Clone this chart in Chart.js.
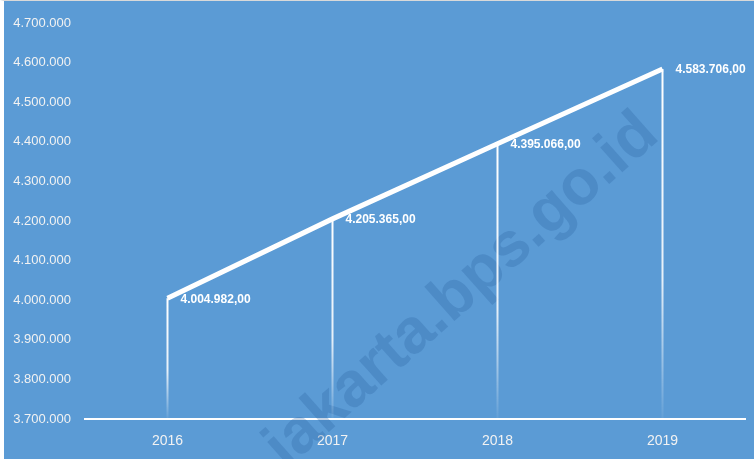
<!DOCTYPE html>
<html>
<head>
<meta charset="utf-8">
<script src="https://cdn.jsdelivr.net/npm/chart.js@4/dist/chart.umd.min.js"></script>
<style>
  html, body { margin: 0; padding: 0; background: #ffffff; }
  #wrap { position: absolute; left: 0; top: 0; width: 750px; height: 458px; border-left: 4px solid #ffffff; border-top: 1px solid #d9d9d9; background: #5B9BD5; }
  canvas { display: block; }
</style>
</head>
<body>
<div id="wrap"><canvas id="c" width="750" height="458"></canvas></div>
<script>
const categories = ['2016', '2017', '2018', '2019'];
const values = [4004982, 4205365, 4395066, 4583706];
const valueLabels = ['4.004.982,00', '4.205.365,00', '4.395.066,00', '4.583.706,00'];
const yMin = 3700000;
const yMax = 4700000;
const yStep = 100000;
const watermarkText = 'jakarta.bps.go.id';

function fmtThousands(v) {
  return String(Math.round(v)).replace(/\B(?=(\d{3})+(?!\d))/g, '.');
}

const extras = {
  id: 'extras',
  beforeDatasetsDraw(chart) {
    const ctx = chart.ctx;
    // watermark
    ctx.save();
    ctx.translate(458, 290);
    ctx.rotate(-41.5 * Math.PI / 180);
    ctx.font = 'bold 63px "Liberation Sans", Arial, sans-serif';
    ctx.fillStyle = 'rgba(40, 95, 160, 0.27)';
    ctx.textAlign = 'center';
    ctx.textBaseline = 'middle';
    ctx.fillText(watermarkText, 0, 0);
    ctx.restore();
    // drop lines
    const xs = chart.scales.x, ys = chart.scales.y;
    const bottom = ys.getPixelForValue(yMin);
    values.forEach((v, i) => {
      const x = xs.getPixelForValue(i);
      const y = ys.getPixelForValue(v);
      const g = ctx.createLinearGradient(0, y, 0, bottom);
      g.addColorStop(0, 'rgba(255,255,255,1)');
      g.addColorStop(0.6, 'rgba(255,255,255,0.85)');
      g.addColorStop(1, 'rgba(255,255,255,0.05)');
      ctx.save();
      ctx.strokeStyle = g;
      ctx.lineWidth = 2;
      ctx.beginPath();
      ctx.moveTo(x, y);
      ctx.lineTo(x, bottom);
      ctx.stroke();
      ctx.restore();
    });
  },
  afterDatasetsDraw(chart) {
    const ctx = chart.ctx;
    const xs = chart.scales.x, ys = chart.scales.y;
    ctx.save();
    ctx.font = 'bold 12px "Liberation Sans", Arial, sans-serif';
    ctx.fillStyle = '#ffffff';
    ctx.textAlign = 'left';
    ctx.textBaseline = 'middle';
    values.forEach((v, i) => {
      const x = xs.getPixelForValue(i);
      const y = ys.getPixelForValue(v);
      ctx.fillText(valueLabels[i], x + 13, y + 1);
    });
    ctx.restore();
  }
};

new Chart(document.getElementById('c'), {
  type: 'line',
  data: {
    labels: categories,
    datasets: [{
      data: values,
      borderColor: '#ffffff',
      borderWidth: 5,
      pointRadius: 0,
      tension: 0,
      fill: false,
      borderCapStyle: 'butt',
      borderJoinStyle: 'miter'
    }]
  },
  options: {
    responsive: false,
    animation: false,
    devicePixelRatio: 1,
    layout: { padding: { top: 22, right: 9, left: 0, bottom: 0 } },
    plugins: { legend: { display: false }, tooltip: { enabled: false } },
    scales: {
      x: {
        offset: true,
        grid: { display: false, drawTicks: false },
        border: { display: true, color: '#ffffff', width: 2 },
        ticks: { color: '#f2f2f2', font: { family: '"Liberation Sans", Arial, sans-serif', size: 14 }, padding: 14 },
        afterFit(s) { s.height = 40; }
      },
      y: {
        min: yMin, max: yMax,
        grid: { display: false, drawTicks: false },
        border: { display: false },
        ticks: {
          stepSize: yStep,
          color: '#f2f2f2',
          font: { family: '"Liberation Sans", Arial, sans-serif', size: 13 },
          padding: 14,
          callback: (v) => fmtThousands(v)
        },
        afterFit(s) { s.width = 81; }
      }
    }
  },
  plugins: [extras]
});
</script>
</body>
</html>
